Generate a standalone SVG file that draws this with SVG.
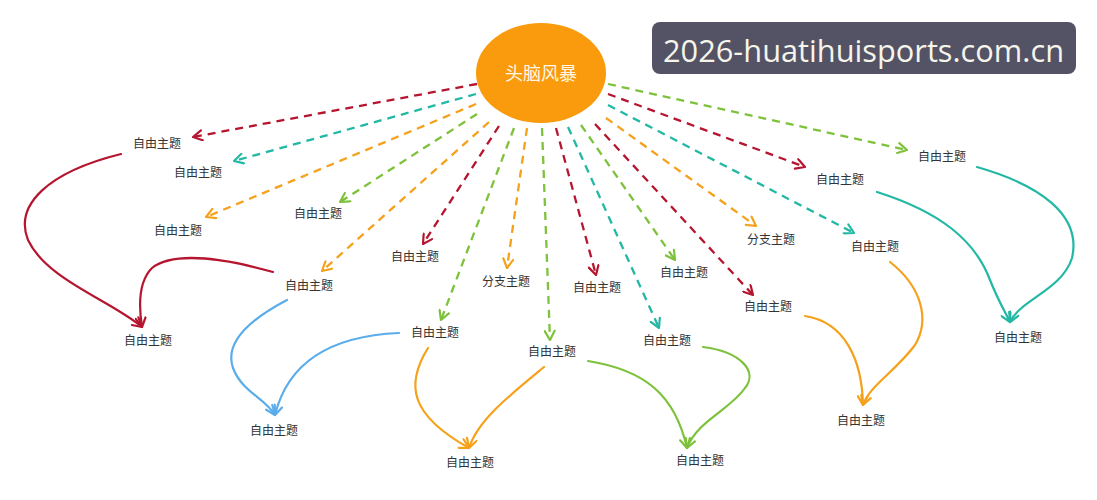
<svg xmlns="http://www.w3.org/2000/svg" width="1097" height="500" viewBox="0 0 1097 500">
<style>
  .lbl { font-family: "Noto Sans CJK SC", "Noto Sans", sans-serif; font-size: 12px; fill: #333333; text-anchor: middle; }
  .d { fill: none; stroke-width: 2.3; stroke-dasharray: 8 6; stroke-linecap: butt; }
  .s { fill: none; stroke-width: 2.2; stroke-linecap: round; }
  .red { stroke: #b5152e; }
  .teal { stroke: #22b8a4; }
  .orange { stroke: #f5a11b; }
  .green { stroke: #7dc23a; }
  .blue { stroke: #5aacea; }
  .ah { fill: none; stroke-width: 2.2; stroke-dasharray: none; stroke-linecap: round; stroke-linejoin: round; }
</style>
<defs>
  <marker id="mRed" viewBox="0 0 12 12" refX="11" refY="6" markerWidth="12" markerHeight="12" markerUnits="userSpaceOnUse" orient="auto"><path class="ah" stroke="#b5152e" d="M2,1 L11,6 L2,11"/></marker>
  <marker id="mTeal" viewBox="0 0 12 12" refX="11" refY="6" markerWidth="12" markerHeight="12" markerUnits="userSpaceOnUse" orient="auto"><path class="ah" stroke="#22b8a4" d="M2,1 L11,6 L2,11"/></marker>
  <marker id="mOrange" viewBox="0 0 12 12" refX="11" refY="6" markerWidth="12" markerHeight="12" markerUnits="userSpaceOnUse" orient="auto"><path class="ah" stroke="#f5a11b" d="M2,1 L11,6 L2,11"/></marker>
  <marker id="mGreen" viewBox="0 0 12 12" refX="11" refY="6" markerWidth="12" markerHeight="12" markerUnits="userSpaceOnUse" orient="auto"><path class="ah" stroke="#7dc23a" d="M2,1 L11,6 L2,11"/></marker>
  <marker id="mBlue" viewBox="0 0 12 12" refX="11" refY="6" markerWidth="12" markerHeight="12" markerUnits="userSpaceOnUse" orient="auto"><path class="ah" stroke="#5aacea" d="M2,1 L11,6 L2,11"/></marker>
</defs>
<rect width="1097" height="500" fill="#ffffff"/>

<g id="connectors">
  <!-- dashed radial connectors -->
  <line class="d red" x1="477" y1="84" x2="193" y2="137" marker-end="url(#mRed)"/>
  <line class="d teal" x1="476" y1="94" x2="234" y2="161" marker-end="url(#mTeal)"/>
  <line class="d orange" x1="476" y1="104" x2="206" y2="217" marker-end="url(#mOrange)"/>
  <line class="d green" x1="477" y1="114" x2="340" y2="202" marker-end="url(#mGreen)"/>
  <line class="d orange" x1="489" y1="122" x2="322" y2="271" marker-end="url(#mOrange)"/>
  <line class="d red" x1="499" y1="126" x2="423" y2="244" marker-end="url(#mRed)"/>
  <line class="d green" x1="514" y1="128" x2="441" y2="320" marker-end="url(#mGreen)"/>
  <line class="d orange" x1="527" y1="128" x2="507" y2="268" marker-end="url(#mOrange)"/>
  <line class="d green" x1="542" y1="128" x2="550" y2="340" marker-end="url(#mGreen)"/>
  <line class="d red" x1="556" y1="128" x2="596" y2="275" marker-end="url(#mRed)"/>
  <line class="d teal" x1="568" y1="127" x2="659" y2="328" marker-end="url(#mTeal)"/>
  <line class="d green" x1="581" y1="125" x2="675" y2="260" marker-end="url(#mGreen)"/>
  <line class="d red" x1="595" y1="124" x2="753" y2="295" marker-end="url(#mRed)"/>
  <line class="d orange" x1="606" y1="118" x2="756" y2="226" marker-end="url(#mOrange)"/>
  <line class="d teal" x1="608" y1="105" x2="854" y2="233" marker-end="url(#mTeal)"/>
  <line class="d red" x1="608" y1="94" x2="805" y2="167" marker-end="url(#mRed)"/>
  <line class="d green" x1="608" y1="84" x2="907" y2="150" marker-end="url(#mGreen)"/>

  <!-- solid curved connectors -->
  <path class="s red" d="M121,154 C48,172 14,205 28,240 C47,280 110,300 142,327" marker-end="url(#mRed)"/>
  <path class="s red" d="M273,272 C230,260 175,250 152,268 C138,282 139,308 142,327" marker-end="url(#mRed)"/>
  <path class="s blue" d="M287,300 C245,322 225,345 233,368 C242,392 265,398 275,415" marker-end="url(#mBlue)"/>
  <path class="s blue" d="M399,333 C330,336 288,362 275,415" marker-end="url(#mBlue)"/>
  <path class="s orange" d="M428,348 C405,385 410,415 469,448" marker-end="url(#mOrange)"/>
  <path class="s orange" d="M544,367 C510,395 478,420 469,448" marker-end="url(#mOrange)"/>
  <path class="s green" d="M588,361 C645,370 675,395 687,448" marker-end="url(#mGreen)"/>
  <path class="s green" d="M703,347 C742,352 758,372 745,388 C730,410 698,420 687,448" marker-end="url(#mGreen)"/>
  <path class="s orange" d="M805,316 C845,322 862,360 863,405" marker-end="url(#mOrange)"/>
  <path class="s orange" d="M890,262 C922,287 930,320 915,345 C895,372 870,385 863,405" marker-end="url(#mOrange)"/>
  <path class="s teal" d="M877,192 C940,212 975,240 990,280 C998,300 1004,310 1010,322" marker-end="url(#mTeal)"/>
  <path class="s teal" d="M977,167 C1040,185 1082,215 1072,258 C1062,290 1020,300 1010,322" marker-end="url(#mTeal)"/>
</g>

<g id="center">
  <ellipse cx="541" cy="73" rx="65" ry="50" fill="#f99b0c"/>
  <text x="541" y="80" font-family="Noto Sans CJK SC, sans-serif" font-size="18" fill="#fff8e6" text-anchor="middle">头脑风暴</text>
</g>

<g id="n1"><text class="lbl" x="157" y="148">自由主题</text></g>
<g id="n2"><text class="lbl" x="198" y="177">自由主题</text></g>
<g id="n3"><text class="lbl" x="178" y="235">自由主题</text></g>
<g id="n4"><text class="lbl" x="318" y="218">自由主题</text></g>
<g id="n5"><text class="lbl" x="309" y="290">自由主题</text></g>
<g id="n6"><text class="lbl" x="415" y="261">自由主题</text></g>
<g id="n7"><text class="lbl" x="435" y="337">自由主题</text></g>
<g id="n8"><text class="lbl" x="506" y="286">分支主题</text></g>
<g id="n9"><text class="lbl" x="552" y="356">自由主题</text></g>
<g id="n10"><text class="lbl" x="597" y="292">自由主题</text></g>
<g id="n11"><text class="lbl" x="667" y="345">自由主题</text></g>
<g id="n12"><text class="lbl" x="684" y="277">自由主题</text></g>
<g id="n13"><text class="lbl" x="768" y="311">自由主题</text></g>
<g id="n14"><text class="lbl" x="771" y="244">分支主题</text></g>
<g id="n15"><text class="lbl" x="875" y="251">自由主题</text></g>
<g id="n16"><text class="lbl" x="840" y="184">自由主题</text></g>
<g id="n17"><text class="lbl" x="942" y="161">自由主题</text></g>
<g id="n18"><text class="lbl" x="148" y="345">自由主题</text></g>
<g id="n19"><text class="lbl" x="274" y="435">自由主题</text></g>
<g id="n20"><text class="lbl" x="470" y="467">自由主题</text></g>
<g id="n21"><text class="lbl" x="700" y="465">自由主题</text></g>
<g id="n22"><text class="lbl" x="861" y="425">自由主题</text></g>
<g id="n23"><text class="lbl" x="1018" y="342">自由主题</text></g>

<g id="watermark">
  <rect x="652" y="22" width="424" height="52" rx="8" ry="8" fill="#545265"/>
  <text x="663" y="62" font-family="Open Sans, Noto Sans, sans-serif" font-size="31" fill="#f5f5ea" textLength="401" lengthAdjust="spacingAndGlyphs">2026-huatihuisports.com.cn</text>
</g>
</svg>
